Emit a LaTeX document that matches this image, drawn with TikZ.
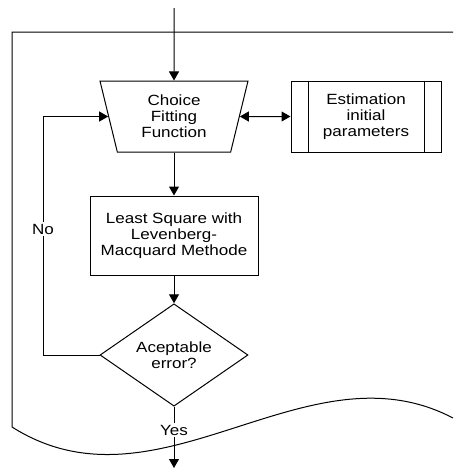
\documentclass[tikz,border=0pt]{standalone}
\usepackage{fontspec}
\setmainfont[FakeStretch=1.15]{Liberation Sans}
\usetikzlibrary{arrows.meta,shapes.geometric}
\begin{document}
\begin{tikzpicture}[x=1pt,y=-1pt,
  line width=1pt,
  every node/.style={font=\fontsize{14.8}{15.8}\selectfont, align=center, inner sep=0pt},
  arr/.style={-{Triangle[length=9pt,width=10pt]}},
  arrtwo/.style={{Triangle[length=9pt,width=10pt]}-{Triangle[length=9pt,width=10pt]}},
  procbox/.style={draw, rectangle, minimum width=168pt, minimum height=79pt},
  subbox/.style={draw, rectangle, minimum width=150pt, minimum height=71pt},
  choicebox/.style={draw, trapezium, trapezium stretches body, shape border rotate=180,
     trapezium left angle=67.8, trapezium right angle=67.8, minimum width=148pt, minimum height=71pt},
  decbox/.style={draw, diamond, minimum width=148pt, minimum height=70pt},
  lbl/.style={fill=white, inner sep=1.5pt}]
\useasboundingbox (0,0) rectangle (453,469);
% document shape
\draw (453,32) -- (12,32) -- (12,427) .. controls (159,520) and (306,341) .. (453,418);
% nodes
\node[choicebox] (t) at (174,116.5) {Choice\\Fitting\\Function};
\node[subbox] (e) at (366,116.5) {Estimation\\initial\\parameters};
\draw ([xshift=18pt]e.north west) -- ([xshift=18pt]e.south west);
\draw ([xshift=-17pt]e.north east) -- ([xshift=-17pt]e.south east);
\node[procbox] (ls) at (174,235.5) {Least Square with\\Levenberg-\\Macquard Methode};
\node[decbox] (d) at (174,355) {Aceptable\\error?};
\coordinate (top) at (174,8);
\coordinate (bot) at (174,468);
\coordinate (nl) at (43,355);
% connectors
\draw[arr] (top) -- (t);
\draw[arrtwo] (t) -- (e);
\draw[arr] (t) -- (ls);
\draw[arr] (ls) -- (d);
\draw[arr] (d.west) -- (nl) |- (t);
\draw[arr] (d.south) -- (bot);
\node[lbl] (no) at (43,229) {No};
\node[lbl] (yes) at (174,430) {Yes};
\end{tikzpicture}
\end{document}
